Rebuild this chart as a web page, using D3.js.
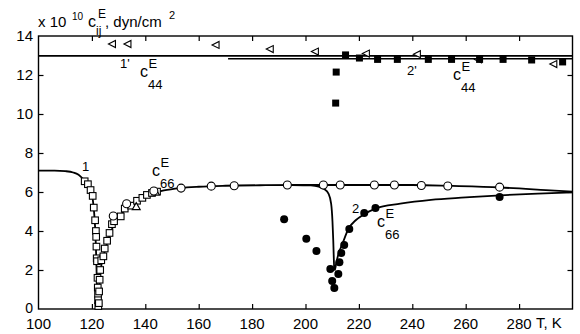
<!DOCTYPE html>
<html><head><meta charset="utf-8">
<script src="https://cdn.jsdelivr.net/npm/d3@7"></script>
<style>body{margin:0;background:#fff}svg{display:block}text{font-family:"Liberation Sans",Arial,Helvetica,sans-serif;fill:#000}</style>
</head><body>
<svg id="c" width="580" height="334"></svg>
<script>
const xTicks = [100,120,140,160,180,200,220,240,260,280];
const yTicks = [0,2,4,6,8,10,12,14];

// curve 1 (c66, sample 1), two branches
const curve1Left = [[100,7.1],[106,7.1],[110,7.07],[113,7.0],[115,6.88],[117,6.62],[118.5,6.38],[119.5,6.08],[120.3,5.65],[120.8,5.0],[121.2,4.2],[121.5,3.2],[121.7,2.2],[121.9,1.2],[122.05,0]];
const curve1Right = [[122.4,0],[122.7,1.0],[123.1,1.8],[123.7,2.35],[124.5,2.8],[125.5,3.3],[126.7,3.8],[128,4.25],[130,4.7],[132.5,5.1],[135,5.4],[138,5.65],[142,5.9],[147,6.08],[153,6.2],[160,6.27],[170,6.32],[185,6.35],[200,6.36],[240,6.36],[255,6.31],[273,6.23],[290,6.1],[300,6.02]];
// curve 2 (c66, sample 2)
const curve2 = [[195,6.36],[202,6.34],[205,6.27],[207,6.15],[208.6,5.92],[209.6,5.4],[210.1,4.5],[210.4,3.5],[210.6,2.6],[210.75,2.1],[211.0,2.0],[211.5,2.35],[212.4,2.85],[213.7,3.3],[216.2,4.14],[218.8,4.55],[221.8,4.85],[226.2,5.15],[235.5,5.4],[247,5.6],[260,5.72],[273,5.83],[287,5.92],[300,5.98]];
// c44 lines
const line44a = [[100,12.98],[300,12.98]];
const line44b = [[171,12.83],[300,12.83]];

// data points
const openSquares = [[117.3,6.55],[118.5,6.4],[119.5,6.1],[120.3,5.8],[120.7,5.2],[121.2,4.55],[121.5,4.0],[121.6,3.7],[121.7,3.2],[121.8,2.6],[121.9,2.45],[122.1,1.6],[122.2,1.1],[122.3,0.75],[122.3,0.45],[122.4,0.15],
  [122.6,0.3],[122.7,0.9],[122.9,1.5],[123.1,2.0],[123.5,2.5],[124.3,2.7],[124.8,3.1],[125.7,3.5],[126.6,3.9],[127.5,4.35],[128.3,4.5],[130.8,4.75],[132.3,5.15],[134.7,5.3],[136.9,5.55],[138.9,5.7],[140.6,5.85],[142.5,5.95],[144.4,6.02]];
const openCircles = [[128,4.77],[133,5.4],[143.2,6.05],[153.4,6.2],[164.7,6.3],[173.3,6.32],[193.2,6.36],[206.7,6.36],[213,6.36],[225.8,6.36],[233.3,6.36],[243.4,6.33],[253.3,6.31],[272.7,6.25]];
const openTriangles = [[136.6,5.25],[143.8,6.0]];
const filledCircles = [[192,4.6],[200.3,3.6],[204.1,2.97],[209.3,2.05],[210,1.44],[210.8,1.08],[212.3,1.79],[212.7,2.4],[213.4,2.87],[214.5,3.28],[216.4,4.1],[222,4.92],[226.2,5.18],[272.7,5.74]];
const filledSquares = [[211.3,10.56],[211.5,12.15],[215,13.03],[220.2,12.87],[227,12.8],[234.4,12.8],[246,12.8],[254.7,12.8],[265.2,12.8],[274,12.8],[284.7,12.77],[296.3,12.67]];
const leftTriangles = [[127.7,13.59],[133.5,13.59],[166.5,13.54],[186.8,13.33],[203.7,13.2],[222.8,13.1],[241.9,13.07],[264.8,12.8],[293,12.56]];

const svg = d3.select("#c");
const L=38.5, R=572.5, T=36, B=309;
const x = d3.scaleLinear().domain([100,300]).range([L,R]);
const y = d3.scaleLinear().domain([0,14]).range([B,T]);

// axes with inward ticks
const tl = 5;
svg.append("g").attr("transform",`translate(0,${B})`)
  .call(d3.axisTop(x).tickValues(xTicks.slice(1)).tickSize(tl).tickFormat(""))
  .call(g=>g.select(".domain").remove());
svg.append("g").attr("transform",`translate(0,${T})`)
  .call(d3.axisBottom(x).tickValues(xTicks.slice(1)).tickSize(tl).tickFormat(""))
  .call(g=>g.select(".domain").remove());
svg.append("g").attr("transform",`translate(${L},0)`)
  .call(d3.axisRight(y).tickValues(yTicks.slice(1,-1)).tickSize(tl).tickFormat(""))
  .call(g=>g.select(".domain").remove());
svg.append("g").attr("transform",`translate(${R},0)`)
  .call(d3.axisLeft(y).tickValues(yTicks.slice(1,-1)).tickSize(tl).tickFormat(""))
  .call(g=>g.select(".domain").remove());
svg.selectAll(".tick line").attr("stroke","#000").attr("stroke-width",1.2);

svg.append("rect").attr("x",L).attr("y",T).attr("width",R-L).attr("height",B-T)
  .attr("fill","none").attr("stroke","#000").attr("stroke-width",1.4);

// tick labels
svg.append("g").selectAll("text").data(xTicks).join("text")
  .attr("x",d=>x(d)).attr("y",329).attr("text-anchor","middle").attr("font-size",15).text(d=>d);
svg.append("g").selectAll("text").data(yTicks).join("text")
  .attr("x",33).attr("y",d=>d===0?y(d)+4:y(d)+5).attr("text-anchor","end").attr("font-size",d=>d===0?14:15).text(d=>d);
svg.append("text").attr("x",536).attr("y",328).attr("font-size",15).text("T, K");

// y label
svg.append("text").attr("x",38).attr("y",27).attr("font-size",15).text("x 10");
svg.append("text").attr("x",72).attr("y",20).attr("font-size",10).text("10");
svg.append("text").attr("x",88).attr("y",27).attr("font-size",16).text("c");
svg.append("text").attr("x",98).attr("y",18).attr("font-size",12).text("E");
svg.append("text").attr("x",96).attr("y",35).attr("font-size",12).text("ij");
svg.append("text").attr("x",105).attr("y",27).attr("font-size",15).text(", dyn/cm");
svg.append("text").attr("x",169).attr("y",19).attr("font-size",11).text("2");

// lines
const ln = d3.line().x(d=>x(d[0])).y(d=>y(d[1])).curve(d3.curveMonotoneX);
const ln0 = d3.line().x(d=>x(d[0])).y(d=>y(d[1]));
[curve1Left,curve1Right,curve2].forEach(c=>svg.append("path").attr("d",ln(c)).attr("fill","none").attr("stroke","#000").attr("stroke-width",1.8));
[line44a,line44b].forEach(c=>svg.append("path").attr("d",ln0(c)).attr("fill","none").attr("stroke","#000").attr("stroke-width",1.6));

// markers
const g = svg.append("g");
g.selectAll(".os").data(openSquares).join("rect")
  .attr("x",d=>x(d[0])-3.3).attr("y",d=>y(d[1])-3.3).attr("width",6.6).attr("height",6.6)
  .attr("fill","#fff").attr("stroke","#000").attr("stroke-width",1.1);
g.selectAll(".ot").data(openTriangles).join("path")
  .attr("d",d=>{const cx=x(d[0]),cy=y(d[1]);return `M${cx},${cy-4}L${cx+4},${cy+3}L${cx-4},${cy+3}Z`;})
  .attr("fill","#fff").attr("stroke","#000").attr("stroke-width",1.1);
g.selectAll(".oc").data(openCircles).join("circle")
  .attr("cx",d=>x(d[0])).attr("cy",d=>y(d[1])).attr("r",4)
  .attr("fill","#fff").attr("stroke","#000").attr("stroke-width",1.1);
g.selectAll(".fc").data(filledCircles).join("circle")
  .attr("cx",d=>x(d[0])).attr("cy",d=>y(d[1])).attr("r",4).attr("fill","#000");
g.selectAll(".lt").data(leftTriangles).join("path")
  .attr("d",d=>{const cx=x(d[0]),cy=y(d[1]);return `M${cx-4},${cy}L${cx+3},${cy-3.5}L${cx+3},${cy+3.5}Z`;})
  .attr("fill","#fff").attr("stroke","#000").attr("stroke-width",1.1);
g.selectAll(".fs").data(filledSquares).join("rect")
  .attr("x",d=>x(d[0])-3.5).attr("y",d=>y(d[1])-3.5).attr("width",7).attr("height",7).attr("fill","#000");

// curve labels
function lab(num,nx,ny,cx,cy,sub){
  svg.append("text").attr("x",nx).attr("y",ny).attr("font-size",13).text(num);
  svg.append("text").attr("x",cx).attr("y",cy).attr("font-size",16).text("c");
  svg.append("text").attr("x",cx+8.5).attr("y",cy-9).attr("font-size",13).text("E");
  svg.append("text").attr("x",cx+8).attr("y",cy+12).attr("font-size",13).text(sub);
}
lab("1'",120,68,140,77,"44");
lab("2'",407,75,453,80,"44");
lab("1",82,171,152,176,"66");
lab("2",352,213,377,227,"66");
</script>
</body></html>
